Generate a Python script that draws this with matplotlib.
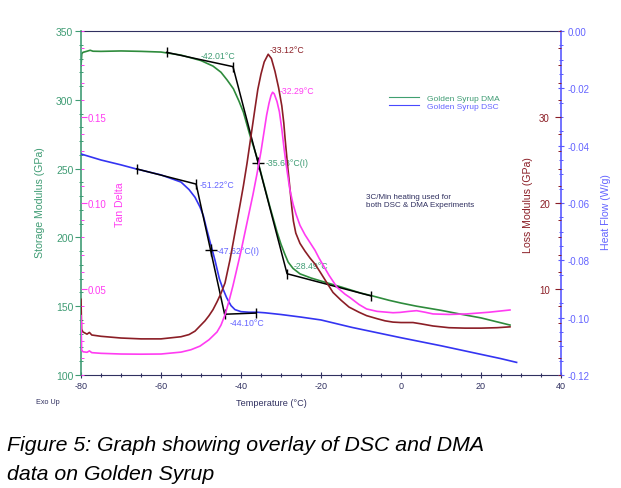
import matplotlib
matplotlib.use('Agg')
import matplotlib.pyplot as plt
from matplotlib.ticker import MultipleLocator, FormatStrFormatter
from matplotlib.lines import Line2D

plt.rcParams['font.family'] = ['Liberation Sans', 'DejaVu Sans']
plt.rcParams['axes.unicode_minus'] = False

# ---------------- data ----------------
# Storage modulus (DMA), GPa
dma_T = [-80, -79.8, -79.5, -78.5, -77.7, -77, -75, -70, -65, -60, -55, -50, -47, -45,
         -43.5, -41.9, -40.5, -39.4, -37.75, -36.1, -34.4, -32.75, -31, -30, -29, -28.2,
         -27, -25.25, -22.5, -20, -15, -10, -7.3, -3, 0, 3.9, 10, 14.75, 20, 27.25]
storage_E = [324.5, 333.5, 334.5, 335.3, 336.0, 335.3, 335.2, 335.5, 335.2, 334.7, 332.5,
             328.5, 324.5, 320, 314.5, 308, 299, 291, 274, 259, 240, 222, 204, 195, 187.5,
             182, 177.5, 173.5, 170.5, 168.3, 164, 159.5, 157.6, 154.3, 152.3, 150, 147,
             144.3, 141.5, 136.3]

# Loss modulus (DMA), GPa
loss_T = [-80, -79.85, -79.5, -78.5, -77.9, -77.3, -75, -70, -65, -60, -55, -53, -51.5,
          -50.25, -49, -48, -47, -46, -45, -44, -43.4, -42.75, -42, -41.1, -40.2, -39.4,
          -38.5, -37.75, -37, -36.5, -35.8, -35, -34.2, -33.2, -32.4, -31.5, -30.6, -29.8,
          -29.3, -29, -28.4, -27.75, -27.3, -26.9, -26.3, -25.25, -24, -22.75, -21.5,
          -20.25, -18.5, -17, -15, -13, -10.5, -8.6, -6, -4, -2, 0, 3, 5, 8, 12, 16, 20,
          24, 27.25]
loss_E = [8.8, 5.3, 5.0, 4.75, 4.95, 4.65, 4.5, 4.3, 4.2, 4.2, 4.45, 4.7, 5.1, 5.7, 6.3,
          6.9, 7.6, 8.5, 9.5, 10.7, 12.0, 13.4, 15.3, 17.6, 19.9, 22.0, 24.6, 27.0, 29.4,
          31.0, 33.2, 35.0, 36.4, 37.3, 36.8, 35.3, 33.4, 31.3, 29.3, 27.6, 24.6, 21.6,
          19.5, 17.9, 16.5, 15.3, 14.4, 13.6, 12.9, 12.0, 10.7, 9.6, 8.7, 7.9, 7.3, 6.9,
          6.55, 6.3, 6.15, 6.1, 6.1, 5.95, 5.7, 5.5, 5.45, 5.45, 5.5, 5.6]

# Tan delta (DMA)
tan_T = [-80, -79.85, -79.5, -78.5, -77.9, -77.3, -75, -70, -65, -60, -55, -52.5, -50.25,
         -48, -46, -45, -44, -43, -42, -41, -40, -39, -38, -37, -36, -35, -34.2, -33.6,
         -33, -32.5, -32.1, -31.7, -31.0, -30.4, -29.8, -29.2, -28.5, -27.8, -27,
         -26.25, -25.25, -24, -22.75, -21.5, -20.5, -19, -18, -16, -14, -12.75, -10.5,
         -8.6, -6, -4, -2, -0.25, 2, 3.9, 6, 8, 12, 16.4, 22, 27.25]
tan_delta = [0.0345, 0.0145, 0.0135, 0.0132, 0.0140, 0.0130, 0.0126, 0.0122, 0.0121,
             0.0122, 0.0133, 0.0147, 0.0168, 0.0205, 0.025, 0.029, 0.035, 0.043, 0.052,
             0.062, 0.072, 0.083, 0.094, 0.105, 0.117, 0.130, 0.142, 0.151, 0.158,
             0.1625, 0.1644, 0.1635, 0.159, 0.153, 0.143, 0.131, 0.119, 0.108, 0.0995,
             0.0935, 0.0870, 0.0815, 0.077, 0.0725, 0.068, 0.062, 0.058, 0.051, 0.047,
             0.045, 0.041, 0.0384, 0.037, 0.0366, 0.0362, 0.0364, 0.037, 0.0374, 0.0365,
             0.0355, 0.0352, 0.0355, 0.0365, 0.0378]

# Heat flow (DSC), W/g
dsc_T = [-80, -75, -70, -66.25, -60, -55, -53, -51.5, -50.25, -49.4, -48.6, -47.75, -46.5,
         -45.4, -44.5, -43.6, -42.5, -41.5, -40, -38, -36, -34, -30, -25, -20, -12.25, 0,
         10, 20, 25, 28.9]
heat_flow = [-0.0429, -0.0450, -0.0467, -0.0481, -0.0502, -0.0527, -0.0553, -0.0580,
             -0.0614, -0.0645, -0.0690, -0.0735, -0.0800, -0.0865, -0.0900, -0.0930,
             -0.0958, -0.0972, -0.0979, -0.0981, -0.0981, -0.0983, -0.0989, -0.0998,
             -0.1008, -0.1034, -0.1070, -0.1098, -0.1128, -0.1143, -0.1156]

# Onset construction lines
dma_tan_T = [-58.6, -42.01, -28.49, -7.5]
dma_tan_E = [334.5, 324.1, 173.6, 157.5]
dma_infl = (-35.68, 254.0)
dsc_tan_T = [-66.1, -51.22, -44.10, -36.3]
dsc_tan_HF = [-0.0481, -0.0534, -0.0988, -0.0984]
dsc_infl = (-47.62, -0.0765)

x_ticks = [-80, -60, -40, -20, 0, 20, 40]
storage_ticks = [100, 150, 200, 250, 300, 350]
tan_ticks = [0.05, 0.10, 0.15]
loss_ticks = [10, 20, 30]
hf_ticks = [-0.12, -0.10, -0.08, -0.06, -0.04, -0.02, 0.00]

# ---------------- colours ----------------
GREEN = '#2e8b3c'
GREEN_T = '#3f9c74'
BLUE = '#3434f2'
BLUE_T = '#6464ff'
RED = '#8b1e26'
PINK = '#ff3cf2'
NAVY = '#303060'

fig = plt.figure(figsize=(6.21, 4.89), dpi=100)
ax = fig.add_axes([81 / 621, 1 - 376 / 489, 480 / 621, 344 / 489])
ax_hf = ax.twinx()
ax_lm = ax.twinx()
ax_td = ax.twinx()

for a in (ax_hf, ax_lm, ax_td):
    for s in a.spines.values():
        s.set_visible(False)
ax.spines['right'].set_visible(False)
ax.spines['left'].set_color(GREEN_T)
ax.spines['left'].set_linewidth(1.2)
ax.spines['top'].set_color(NAVY)
ax.spines['bottom'].set_color(NAVY)
ax_hf.spines['right'].set_visible(True)
ax_hf.spines['right'].set_color('#5a5aff')
ax_hf.spines['right'].set_linewidth(1.2)

# x axis
ax.set_xlim(-80, 40)
ax.set_xticks(x_ticks)
ax.xaxis.set_minor_locator(MultipleLocator(5))
ax.tick_params(axis='x', which='major', direction='inout', length=5, width=0.8,
               color=NAVY, labelcolor=NAVY, labelsize=6.5, pad=1.5, top=False)
ax.tick_params(axis='x', which='minor', direction='inout', length=3, width=0.8,
               color=NAVY, top=False)

# storage modulus axis
ax.set_ylim(100, 350)
ax.set_yticks(storage_ticks)
ax.yaxis.set_minor_locator(MultipleLocator(10))
ax.tick_params(axis='y', which='major', direction='out', length=4, width=0.8,
               color=GREEN_T, labelcolor=GREEN_T, labelsize=7.5, pad=1.5)
ax.tick_params(axis='y', which='minor', direction='inout', length=3, width=0.7,
               color=GREEN_T)

# tan delta axis (ticks inside left)
ax_td.set_ylim(0, 0.2)
ax_td.yaxis.set_ticks_position('left')
ax_td.set_yticks(tan_ticks)
ax_td.yaxis.set_major_formatter(FormatStrFormatter('%.2f'))
ax_td.yaxis.set_minor_locator(MultipleLocator(0.01))
ax_td.tick_params(axis='y', which='major', direction='in', length=4, width=0.8,
                  color=PINK, labelcolor=PINK, labelsize=7, pad=-5)
ax_td.tick_params(axis='y', which='minor', direction='in', length=2, width=0.7, color=PINK)
for lbl in ax_td.get_yticklabels():
    lbl.set_horizontalalignment('left')

# loss modulus axis (labels inside right)
ax_lm.set_ylim(0, 40)
ax_lm.set_yticks(loss_ticks)
ax_lm.yaxis.set_minor_locator(MultipleLocator(2))
ax_lm.tick_params(axis='y', which='major', direction='in', length=4, width=0.8,
                  color=RED, labelcolor=RED, labelsize=7, pad=-8)
ax_lm.tick_params(axis='y', which='minor', direction='in', length=2, width=0.7, color=RED)
for lbl in ax_lm.get_yticklabels():
    lbl.set_horizontalalignment('right')

# heat flow axis
ax_hf.set_ylim(-0.12, 0.0)
ax_hf.set_yticks(hf_ticks)
ax_hf.yaxis.set_major_formatter(FormatStrFormatter('%.2f'))
ax_hf.yaxis.set_minor_locator(MultipleLocator(0.005))
ax_hf.tick_params(axis='y', which='major', direction='inout', length=5, width=0.8,
                  color='#5a5aff', labelcolor=BLUE_T, labelsize=7, pad=2.5)
ax_hf.tick_params(axis='y', which='minor', direction='inout', length=3, width=0.7,
                  color='#5a5aff')

# curves
ax_hf.plot(dsc_T, heat_flow, color=BLUE, lw=1.2)
ax_lm.plot(loss_T, loss_E, color=RED, lw=1.2)
ax_td.plot(tan_T, tan_delta, color=PINK, lw=1.2)
ax.plot(dma_T, storage_E, color=GREEN, lw=1.2)

# construction lines
ax.plot(dma_tan_T, dma_tan_E, color='black', lw=1.1, marker='|', ms=7, mew=1.0)
ax.plot([dma_infl[0]], [dma_infl[1]], marker='+', color='black', ms=8, mew=1.0)
ax_hf.plot(dsc_tan_T, dsc_tan_HF, color='black', lw=1.1, marker='|', ms=7, mew=1.0)
ax_hf.plot([dsc_infl[0]], [dsc_infl[1]], marker='+', color='black', ms=8, mew=1.0)

fs = 6.3
ax.text(-50, 332.5, '-42.01°C', color=GREEN_T, fontsize=fs, ha='left', va='center')
ax.text(-33.8, 254.1, '-35.68°C(I)', color=GREEN_T, fontsize=fs, ha='left', va='center')
ax.text(-26.9, 179.4, '-28.49°C', color=GREEN_T, fontsize=fs, ha='left', va='center')
ax_lm.text(-32.8, 37.9, '-33.12°C', color=RED, fontsize=fs, ha='left', va='center')
ax_td.text(-30.25, 0.1653, '-32.29°C', color=PINK, fontsize=fs, ha='left', va='center')
ax_hf.text(-50.25, -0.0534, '-51.22°C', color=BLUE_T, fontsize=fs, ha='left', va='center')
ax_hf.text(-46.1, -0.0766, '-47.62°C(I)', color=BLUE_T, fontsize=fs, ha='left', va='center')
ax_hf.text(-42.75, -0.1016, '-44.10°C', color=BLUE_T, fontsize=fs, ha='left', va='center')

# legend
handles = [Line2D([], [], color='#40a070', lw=0.8), Line2D([], [], color='#4848ff', lw=0.8)]
leg = ax_td.legend(handles, ['Golden Syrup DMA', 'Golden Syrup DSC'], loc='upper left',
                   bbox_to_anchor=(389 / 621, 1 - 95 / 489), bbox_transform=fig.transFigure,
                   frameon=False, fontsize=6, handlelength=3.6, handletextpad=1.0,
                   labelspacing=0.0, borderpad=0, borderaxespad=0)
for txt, col in zip(leg.get_texts(), [GREEN_T, BLUE_T]):
    txt.set_color(col)

ax.text(0.5936, 0.5073, '3C/Min heating used for\nboth DSC & DMA Experiments',
        transform=ax.transAxes, color=NAVY, fontsize=5.8, ha='left', va='center',
        linespacing=1.3)

# axis titles
fig.text(40 / 621, 1 - 203 / 489, 'Storage Modulus (GPa)', rotation=90, color=GREEN_T,
         fontsize=7.6, ha='center', va='center')
fig.text(120 / 621, 1 - 205 / 489, 'Tan Delta', rotation=90, color=PINK,
         fontsize=7.6, ha='center', va='center')
fig.text(528 / 621, 1 - 205 / 489, 'Loss Modulus (GPa)', rotation=90, color=RED,
         fontsize=7.6, ha='center', va='center')
fig.text(606 / 621, 1 - 212 / 489, 'Heat Flow (W/g)', rotation=90, color=BLUE_T,
         fontsize=7.6, ha='center', va='center')
fig.text(271 / 621, 1 - 404 / 489, 'Temperature (°C)', color=NAVY, fontsize=6.6,
         ha='center', va='center')
fig.text(48 / 621, 1 - 402 / 489, 'Exo Up', color=NAVY, fontsize=5.2,
         ha='center', va='center')

# caption
fig.text(7 / 621, 1 - 451 / 489, 'Figure 5: Graph showing overlay of DSC and DMA',
         fontsize=15.3, style='italic', color='black', ha='left', va='baseline')
fig.text(7 / 621, 1 - 480 / 489, 'data on Golden Syrup',
         fontsize=15.3, style='italic', color='black', ha='left', va='baseline')

fig.savefig('out.png', dpi=100)
